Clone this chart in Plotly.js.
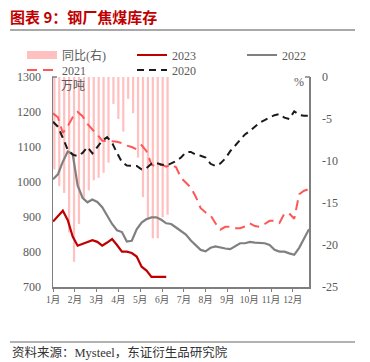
<!DOCTYPE html>
<html><head><meta charset="utf-8">
<script src="https://cdn.plot.ly/plotly-3.0.1.min.js"></script>
<style>html,body{margin:0;padding:0;background:#fff;}#chart{width:370px;height:362px;}</style>
</head><body><div id="chart"></div>
<script>
const monthLabels = ['1月','2月','3月','4月','5月','6月','7月','8月','9月','10月','11月','12月'];
const yoyTickLabels = ['-25','-20','-15','-10','-5','0'];
const yoyTickValues = [-25,-20,-15,-10,-5,0];
const yoy2023 = [-11, -13, -13.8, -18.5, -22, -17.5, -14.4, -13.5, -12.3, -12, -11.4, -10.2, -3.2, -5, -6.5, -2.6, -4.3, -9.6, -14.3, -16.7, -19.2, -19.2, -16.7, -16.4];
const s2023 = [887, 901, 918, 891, 844, 818, 823, 828, 834, 829, 818, 827, 837, 820, 801, 801, 797, 787, 758, 747, 729, 729, 729, 729];
const s2022 = [1008, 1022, 1058, 1087, 1080, 990, 955, 942, 950, 943, 928, 905, 880, 862, 857, 830, 832, 865, 884, 894, 899, 899, 892, 882, 880, 870, 860, 850, 833, 818, 806, 802, 812, 816, 812, 810, 808, 816, 825, 825, 829, 827, 825, 825, 820, 806, 801, 801, 796, 792, 812, 838, 865];
const s2021 = [1196, 1185, 1140, 1160, 1185, 1200, 1188, 1166, 1150, 1136, 1118, 1117, 1115, 1115, 1111, 1104, 1100, 1093, 1105, 1088, 1050, 1043, 1050, 1044, 1050, 1042, 1012, 998, 984, 958, 925, 913, 905, 882, 864, 872, 872, 868, 868, 873, 882, 874, 872, 880, 889, 889, 883, 910, 910, 895, 965, 975, 980];
const s2020 = [1172, 1158, 1126, 1092, 1078, 1074, 1083, 1100, 1082, 1100, 1118, 1128, 1112, 1083, 1057, 1047, 1046, 1046, 1036, 1040, 1052, 1054, 1050, 1047, 1053, 1060, 1070, 1085, 1086, 1078, 1075, 1070, 1052, 1046, 1053, 1067, 1088, 1104, 1118, 1136, 1146, 1157, 1170, 1177, 1184, 1191, 1194, 1184, 1180, 1202, 1192, 1189, 1189];

const idx = n => Array.from({length: n}, (_, i) => i);
const W = 370, H = 362;
const L = 53, R = 309, T = 77, B = 287;
const px2x = p => (p - L) / (R - L);
const px2y = p => (B - p) / (B - T);

const serif = '"Liberation Serif", "Noto Sans CJK SC", serif';
const grey = '#7f7f7f';
const txt = '#595959';
const pink = '#FFC0C0';

const traces = [
  {type: 'bar', x: idx(yoy2023.length), y: yoy2023, yaxis: 'y', width: 0.45, offset: 0.05,
   marker: {color: pink, line: {width: 0}}, showlegend: false, name: '同比(右)'},
  {type: 'scatter', mode: 'lines', x: [null], y: [null], yaxis: 'y', name: '同比(右)',
   line: {color: pink, width: 8}, legend: 'legend'},
  {type: 'scatter', mode: 'lines', x: idx(s2023.length), y: s2023, yaxis: 'y2', name: '2023',
   line: {color: '#C00000', width: 2.2}, legend: 'legend2'},
  {type: 'scatter', mode: 'lines', x: idx(s2022.length), y: s2022, yaxis: 'y2', name: '2022',
   line: {color: '#808080', width: 2.2}, legend: 'legend3'},
  {type: 'scatter', mode: 'lines', x: idx(s2021.length), y: s2021, yaxis: 'y2', name: '2021',
   line: {color: '#FF5757', width: 2, dash: '10px,6px'}, legend: 'legend4'},
  {type: 'scatter', mode: 'lines', x: idx(s2020.length), y: s2020, yaxis: 'y2', name: '2020',
   line: {color: '#1a1a1a', width: 2, dash: '7px,5px'}, legend: 'legend5'}
];

const legBase = {bgcolor: 'rgba(0,0,0,0)', borderwidth: 0, orientation: 'h',
  xanchor: 'left', yanchor: 'middle', font: {family: serif, size: 12, color: txt}};
const mkLeg = (lx, ly) => Object.assign({}, legBase, {x: px2x(lx), y: px2y(ly)});

const layout = {
  width: W, height: H,
  margin: {l: L, r: W - R, t: T, b: H - B, autoexpand: false},
  paper_bgcolor: '#fff', plot_bgcolor: '#fff',
  showlegend: true,
  barmode: 'overlay',
  title: {text: '图表 9：钢厂焦煤库存', x: 10 / W, xref: 'container', xanchor: 'left',
          y: 1 - 18 / H, yref: 'container', yanchor: 'middle',
          font: {family: '"Noto Sans CJK SC", sans-serif', size: 15, color: '#C00000', weight: 'bold'}},
  xaxis: {range: [0, 52], tickvals: monthLabels.map((_, i) => i * 31 / 7), ticktext: monthLabels,
          ticks: 'outside', ticklen: 3, tickcolor: grey, tickwidth: 1,
          showline: true, linecolor: grey, linewidth: 1.5, showgrid: false, zeroline: false,
          tickfont: {family: serif, size: 9.5, color: txt}, fixedrange: true},
  yaxis: {range: [-25, 0], tickvals: yoyTickValues, ticktext: yoyTickLabels, side: 'right',
          showline: true, linecolor: grey, linewidth: 1.5, showgrid: false, zeroline: false,
          ticks: '', ticklabelstandoff: 9,
          tickfont: {family: serif, size: 12, color: txt}, fixedrange: true},
  yaxis2: {range: [700, 1300], dtick: 100, overlaying: 'y', side: 'left',
           showline: true, linecolor: grey, linewidth: 1.5, showgrid: false, zeroline: false,
           ticks: '', ticklabelstandoff: 8,
           tickfont: {family: serif, size: 12, color: txt}, fixedrange: true},
  legend: mkLeg(22, 55),
  legend2: mkLeg(132, 55),
  legend3: mkLeg(242, 55),
  legend4: mkLeg(22, 70),
  legend5: mkLeg(132, 70),
  annotations: [
    {text: '万吨', xref: 'paper', yref: 'paper', x: px2x(59), y: px2y(86), xanchor: 'left', yanchor: 'middle',
     showarrow: false, font: {family: serif, size: 12, color: txt}},
    {text: '%', xref: 'paper', yref: 'paper', x: px2x(299), y: px2y(82), xanchor: 'center', yanchor: 'middle',
     showarrow: false, font: {family: serif, size: 12, color: txt}},
    {text: '资料来源：Mysteel，东证衍生品研究院', xref: 'paper', yref: 'paper', x: px2x(10), y: px2y(352),
     xanchor: 'left', yanchor: 'middle', showarrow: false, font: {family: serif, size: 12.5, color: '#333'}}
  ],
  shapes: [
    {type: 'line', xref: 'paper', yref: 'paper', x0: px2x(10), x1: px2x(355), y0: px2y(30), y1: px2y(30),
     line: {color: '#8c8c8c', width: 1.5}},
    {type: 'line', xref: 'paper', yref: 'paper', x0: px2x(10), x1: px2x(355), y0: px2y(342), y1: px2y(342),
     line: {color: '#666', width: 1.2}},
    {type: 'line', xref: 'paper', yref: 'paper', x0: px2x(52), x1: px2x(57), y0: 1, y1: 1,
     line: {color: grey, width: 1.5}},
    {type: 'line', xref: 'paper', yref: 'paper', x0: px2x(305), x1: px2x(310), y0: 1, y1: 1,
     line: {color: grey, width: 1.5}}
  ]
};

Plotly.newPlot('chart', traces, layout, {staticPlot: true, displayModeBar: false});
</script>
</body></html>
